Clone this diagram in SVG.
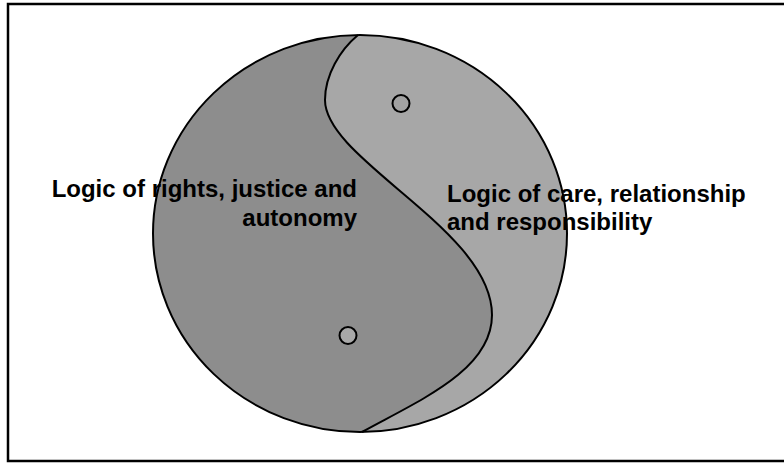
<svg xmlns="http://www.w3.org/2000/svg" width="784" height="463" viewBox="0 0 784 463">
<style>
.line{fill:none;stroke:#000;stroke-width:2}
.lbl{font-family:"Liberation Sans",Arial,sans-serif;font-weight:bold;font-size:24px;fill:#000}
.dot{stroke:#000;stroke-width:2}
</style>
<rect x="0" y="0" width="784" height="463" fill="#fff"/>
<rect x="8" y="4" width="800" height="457" fill="none" stroke="#000" stroke-width="2.5"/>
<g id="light-half">
<ellipse cx="360" cy="233.5" rx="207" ry="198.5" fill="#a7a7a7"/>
</g>
<g id="dark-half">
<path d="M358,35 C340,50 325,75 325,100 C325,160 492,230 492,315 C492,370 420,400 362,432 A207,198.5 0 0 1 153,233.5 A207,198.5 0 0 1 358,35 Z" fill="#8d8d8d"/>
</g>
<g id="connectors">
<path class="line" d="M358,35 C340,50 325,75 325,100 C325,160 492,230 492,315 C492,370 420,400 362,432"/>
<ellipse class="line" cx="360" cy="233.5" rx="207" ry="198.5"/>
</g>
<g id="dot-top">
<circle class="dot" cx="401" cy="103.5" r="8.5" fill="#a2a2a2"/>
</g>
<g id="dot-bottom">
<circle class="dot" cx="348" cy="335.5" r="8.5" fill="#a9a9a9"/>
</g>
<g id="label-left">
<text class="lbl" text-anchor="end"><tspan x="357" y="197">Logic of rights, justice and</tspan><tspan x="357" y="226">autonomy</tspan></text>
</g>
<g id="label-right">
<text class="lbl"><tspan x="447" y="202">Logic of care, relationship</tspan><tspan x="447" y="230">and responsibility</tspan></text>
</g>
</svg>
